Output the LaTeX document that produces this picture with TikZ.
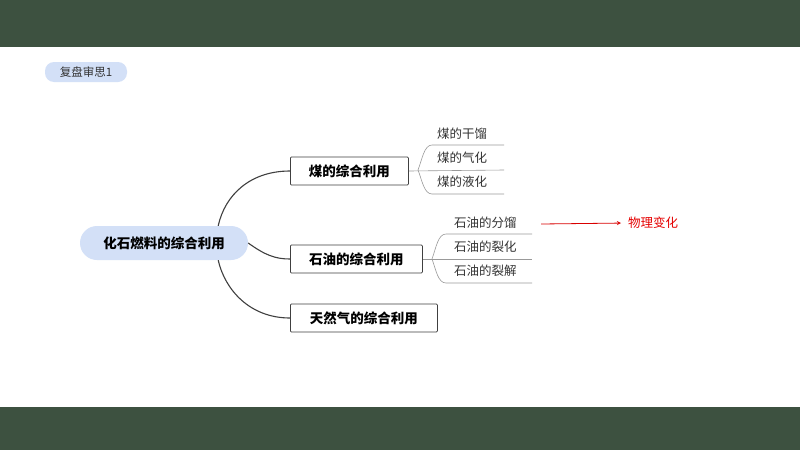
\documentclass[tikz,border=0pt]{standalone}
\usepackage{fontspec}
\setmainfont{Noto Sans CJK SC}
\definecolor{bar}{HTML}{3D5140}
\definecolor{lb}{HTML}{D3E0F7}
\begin{document}
\begin{tikzpicture}[x=1pt,y=-1pt,
  box/.style={draw=black!75,line width=0.8pt,rounded corners=1pt,minimum height=28pt,inner xsep=7pt,font=\fontsize{13.5}{13.5}\selectfont\bfseries,anchor=west},
  leaf/.style={font=\fontsize{12.5}{12.5}\selectfont,text=black!80,anchor=west,inner sep=1pt},
  br/.style={draw=black!75,line width=1.1pt},
  lb/.style={draw=black!40,line width=0.6pt}]
\fill[white] (0,0) rectangle (800,450);
\fill[bar] (0,0) rectangle (800,47);
\fill[bar] (0,407) rectangle (800,450);
\node[fill=lb,rounded corners=9pt,minimum width=82pt,minimum height=20pt,font=\fontsize{11.5}{11.5}\selectfont,text=black!80] (tag) at (86,72) {复盘审思1};
\node[fill=lb,rounded corners=17pt,minimum width=168pt,minimum height=34pt,font=\fontsize{13.5}{13.5}\selectfont\bfseries] (root) at (164,243) {化石燃料的综合利用};
\node[box,minimum width=118pt] (b1) at (290,171) {煤的综合利用};
\node[box,minimum width=132pt] (b2) at (290,259) {石油的综合利用};
\node[box,minimum width=147pt] (b3) at (290,318) {天然气的综合利用};
\draw[br] (root.north east) ++(-30,0) coordinate (r1) .. controls (225,195) and (250,171) .. (b1.west);
\draw[br] (root.east) .. controls (265,255) and (275,259) .. (b2.west);
\draw[br] (root.south east) ++(-30,0) coordinate (r3) .. controls (225,290) and (250,318) .. (b3.west);
% coal leaves
\node[leaf] (c1) at (436,134) {煤的干馏};
\node[leaf] (c2) at (436,158) {煤的气化};
\node[leaf] (c3) at (436,182) {煤的液化};
\coordinate (c1e) at (504,145); \coordinate (c2e) at (504,170); \coordinate (c3e) at (504,194);
\draw[lb] (b1.east) -- (c2e);
\draw[lb] (418,170) .. controls (422,160) and (424,145) .. (432,145) -- (c1e);
\draw[lb] (418,170) .. controls (422,180) and (424,194) .. (432,194) -- (c3e);
% oil leaves
\node[leaf] (o1) at (453,223) {石油的分馏};
\node[leaf] (o2) at (453,247) {石油的裂化};
\node[leaf] (o3) at (453,271) {石油的裂解};
\coordinate (o1e) at (532,234); \coordinate (o2e) at (532,259); \coordinate (o3e) at (532,283);
\draw[lb] (b2.east) -- (o2e);
\draw[lb] (432,259) .. controls (436,248) and (438,234) .. (446,234) -- (o1e);
\draw[lb] (432,259) .. controls (436,270) and (438,283) .. (446,283) -- (o3e);
\node[leaf,text=red!90!black] (phy) at (627,223) {物理变化};
\coordinate (as) at (541,224);
\draw[red!85!black,line width=0.8pt,-stealth,shorten >=6pt] (as) -- (phy.west);
\end{tikzpicture}
\end{document}
